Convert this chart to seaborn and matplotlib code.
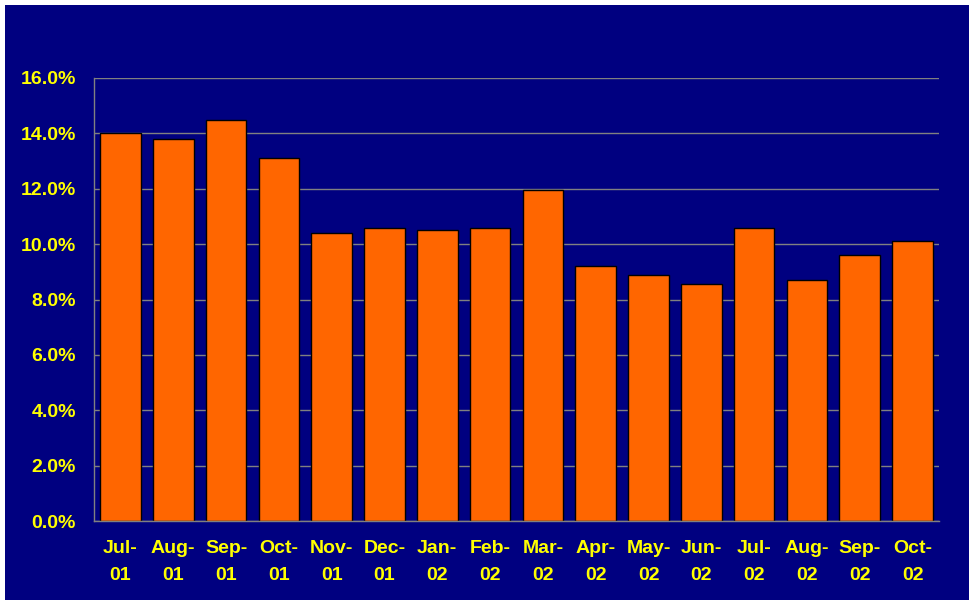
import numpy as np
import pandas as pd
import matplotlib
matplotlib.use("Agg")
import matplotlib.pyplot as plt
import seaborn as sns
from matplotlib.patches import Rectangle
from matplotlib.ticker import FuncFormatter, FixedLocator

months = ["Jul-\n01", "Aug-\n01", "Sep-\n01", "Oct-\n01", "Nov-\n01", "Dec-\n01",
          "Jan-\n02", "Feb-\n02", "Mar-\n02", "Apr-\n02", "May-\n02", "Jun-\n02",
          "Jul-\n02", "Aug-\n02", "Sep-\n02", "Oct-\n02"]
rates = [14.0, 13.8, 14.5, 13.1, 10.4, 10.6, 10.5, 10.6, 11.95, 9.2, 8.9, 8.55,
         10.6, 8.7, 9.6, 10.1]

data = pd.DataFrame({"Month": months, "Rate": rates})

navy = "#000080"
orange = "#FF6600"
yellow = "#FFFF00"
grey = "#808080"

sns.set_style("white")
plt.rcParams["font.family"] = ["Liberation Sans", "DejaVu Sans"]

fig = plt.figure(figsize=(9.74, 6.04), dpi=100, facecolor="white")
fig.patches.append(Rectangle((5 / 974, 4 / 604), 964 / 974, 595 / 604,
                             transform=fig.transFigure, facecolor=navy,
                             edgecolor="none", zorder=-10))
ax = fig.add_axes([94 / 974, 83 / 604, 845 / 974, 443 / 604])
ax.set_facecolor(navy)

sns.barplot(data=data, x="Month", y="Rate", color=orange, saturation=1,
            width=0.77, edgecolor="black", linewidth=1.0, ax=ax, zorder=3)

ax.set_xlim(-0.5, len(months) - 0.5)
ax.set_ylim(0, 16)
ax.set_yticks(np.arange(0, 17, 2))
ax.yaxis.set_major_formatter(FuncFormatter(lambda v, p: f"{v:.1f}%"))
ax.grid(axis="y", color=grey, linewidth=1, zorder=0)
ax.set_axisbelow(True)

ax.xaxis.set_minor_locator(FixedLocator(np.arange(-0.5, len(months), 1)))
ax.tick_params(axis="x", which="major", length=0, pad=14)
ax.tick_params(axis="x", which="minor", length=7, color=grey, width=1, direction="out")
ax.tick_params(axis="y", length=6, color=grey, width=1, direction="out", pad=7)
ax.tick_params(labelcolor=yellow, labelsize=14)
for lab in ax.get_xticklabels() + ax.get_yticklabels():
    lab.set_fontweight("bold")
for lab in ax.get_xticklabels():
    lab.set_linespacing(1.75)

for side in ["top", "right"]:
    ax.spines[side].set_visible(False)
for side in ["left", "bottom"]:
    ax.spines[side].set_color(grey)
    ax.spines[side].set_linewidth(1)
    ax.spines[side].set_zorder(4)

ax.set_xlabel("")
ax.set_ylabel("")

fig.savefig("out.png", dpi=100, facecolor="white")
